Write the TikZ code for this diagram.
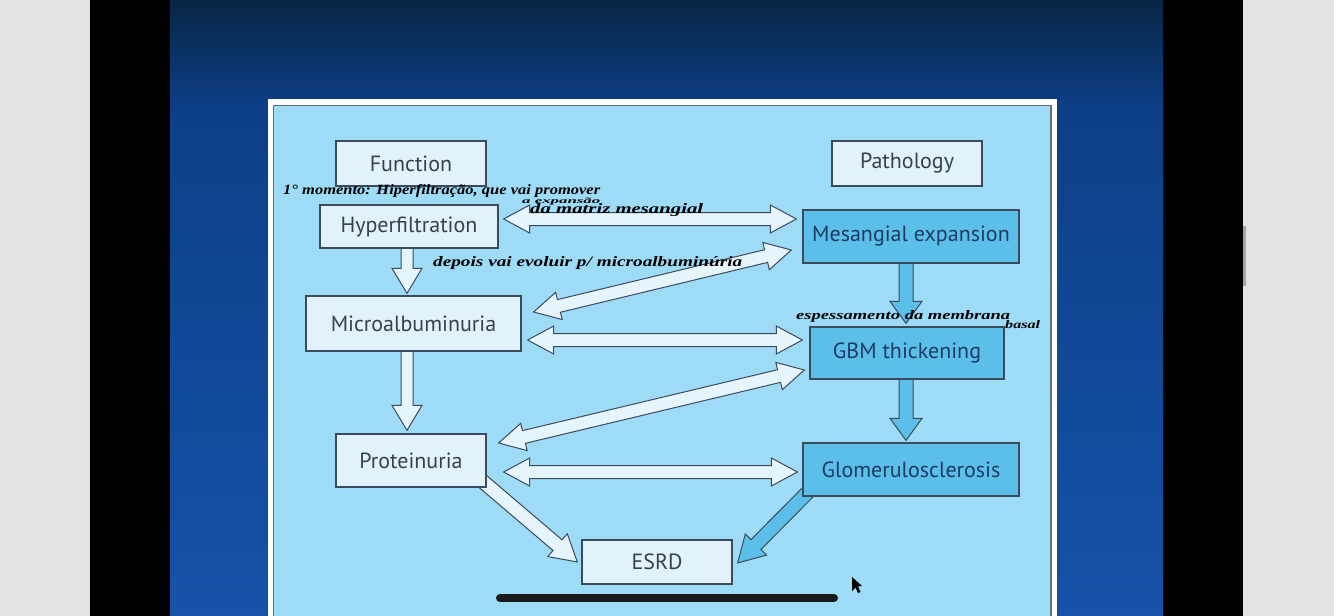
\documentclass[tikz,border=0pt]{standalone}
\usepackage{fontspec}
\setmainfont{PT Sans}
\newfontfamily\hand{Liberation Serif}
\usetikzlibrary{calc}
\pgfdeclarelayer{bg}\pgfdeclarelayer{mid}\pgfsetlayers{bg,mid,main}
\definecolor{sidegrey}{HTML}{E3E3E3}
\definecolor{panel}{HTML}{9EDBF7}
\definecolor{boxlight}{HTML}{E2F2FB}
\definecolor{boxblue}{HTML}{5CBFE9}
\definecolor{boxline}{HTML}{3C4B5B}
\definecolor{txtdark}{HTML}{3A404A}
\definecolor{txtblue}{HTML}{1C3C64}
\definecolor{arrlight}{HTML}{E6F4FB}
\definecolor{slidetop}{HTML}{082644}
\definecolor{slidemid}{HTML}{0D3F88}
\definecolor{slidebot}{HTML}{1652A8}
\tikzset{
  lightbox/.style={draw=boxline, line width=1.3pt, fill=boxlight, text=txtdark, inner sep=0pt, font=\fontsize{22}{26}\selectfont},
  bluebox/.style={draw=boxline, line width=1.3pt, fill=boxblue, text=txtblue, inner sep=0pt, font=\fontsize{22}{26}\selectfont},
  larrow/.style={draw=boxline, line width=1pt, fill=arrlight, line join=miter},
  barrow/.style={draw=boxline, line width=1pt, fill=boxblue, line join=miter},
  handtext/.style={anchor=west, inner sep=0pt, text=black},
}
% double block arrow: #1 style, #2 A, #3 B, #4 head length, #5 head half width, #6 shaft half width
\newcommand\dblarrow[6]{%
\draw[#1] (#2) -- ($(#2)!#4!(#3)!#5!90:(#3)$) -- ($(#2)!#4!(#3)!#6!90:(#3)$) -- ($(#3)!#4!(#2)!#6!-90:(#2)$) -- ($(#3)!#4!(#2)!#5!-90:(#2)$) -- (#3) -- ($(#3)!#4!(#2)!#5!90:(#2)$) -- ($(#3)!#4!(#2)!#6!90:(#2)$) -- ($(#2)!#4!(#3)!#6!-90:(#3)$) -- ($(#2)!#4!(#3)!#5!-90:(#3)$) -- cycle;}
% single block arrow from #2 to tip #3
\newcommand\sglarrow[6]{%
\draw[#1] ($(#2)!#6!90:(#3)$) -- ($(#3)!#4!(#2)!#6!-90:(#2)$) -- ($(#3)!#4!(#2)!#5!-90:(#2)$) -- (#3) -- ($(#3)!#4!(#2)!#5!90:(#2)$) -- ($(#3)!#4!(#2)!#6!90:(#2)$) -- ($(#2)!#6!-90:(#3)$) -- cycle;}
\begin{document}
\begin{tikzpicture}[x=1pt,y=-1pt]
\useasboundingbox (0,0) rectangle (1334,616);
\begin{pgfonlayer}{bg}
  \fill[sidegrey] (0,0) rectangle (1334,616);
  \fill[black] (90,0) rectangle (1243,616);
  \shade[top color=slidetop, bottom color=slidemid] (170,0) rectangle (1163,110);
  \shade[top color=slidemid, bottom color=slidebot] (170,109.5) rectangle (1163,616);
  \fill[white] (268,99) rectangle (1057,616);
  \filldraw[fill=panel, draw=boxline!80, line width=1.2pt] (273.5,105.5) rectangle (1051,630);
  \fill[gray!70] (1243,226) rectangle (1246,286);
\end{pgfonlayer}

% boxes
\node[lightbox, minimum width=150pt, minimum height=45pt] (func) at (411,163.5) {Function};
\node[lightbox, minimum width=150pt, minimum height=45pt] (path) at (907,163.5) {Pathology};
\node[lightbox, minimum width=178pt, minimum height=43pt] (hyp) at (409,226.5) {Hyperfiltration};
\node[bluebox, minimum width=216pt, minimum height=53pt] (mes) at (911,236.5) {Mesangial expansion};
\node[lightbox, minimum width=215pt, minimum height=55pt] (micro) at (413.5,323.5) {Microalbuminuria};
\node[bluebox, minimum width=194pt, minimum height=52pt] (gbm) at (907,353) {GBM thickening};
\node[lightbox, minimum width=150pt, minimum height=53pt] (prot) at (411,460.5) {Proteinuria};
\node[bluebox, minimum width=216pt, minimum height=53pt] (glom) at (911,469.5) {Glomerulosclerosis};
\node[lightbox, minimum width=150pt, minimum height=44pt] (esrd) at (657,562) {ESRD};

% arrow end points
\coordinate (a1s) at ($(hyp.east)+(5,-7.5)$);
\coordinate (a1e) at ($(mes.west)+(-6,-17.5)$);
\coordinate (a2s) at ($(mes.west)+(-11,13.5)$);
\coordinate (a2e) at ($(micro.east)+(12,-11.5)$);
\coordinate (a3s) at ($(hyp.south)+(-2,-2)$);
\coordinate (a3e) at ($(micro.north)+(-6.5,-2)$);
\coordinate (a4s) at ($(micro.east)+(6,16.5)$);
\coordinate (a4e) at ($(gbm.west)+(-7,-13)$);
\coordinate (a5s) at ($(gbm.west)+(-5,17)$);
\coordinate (a5e) at ($(prot.east)+(12,-17.5)$);
\coordinate (a6s) at ($(micro.south)+(-6.5,-2)$);
\coordinate (a6e) at ($(prot.north)+(-4,-3)$);
\coordinate (a7s) at ($(prot.east)+(17,11.5)$);
\coordinate (a7e) at ($(glom.west)+(-5,2.5)$);
\coordinate (a8s) at ($(mes.south)+(-5,-2)$);
\coordinate (a8e) at ($(gbm.north)+(-1,-3)$);
\coordinate (a9s) at ($(gbm.south)+(-1,-2)$);
\coordinate (a9e) at ($(glom.north)+(-5,-2)$);
\coordinate (a10s) at ($(prot.south east)+(-6,-8)$);
\coordinate (a10e) at ($(esrd.west)+(-4,0)$);
\coordinate (a11s) at ($(glom.south west)+(9,-8)$);
\coordinate (a11e) at ($(esrd.east)+(5,1)$);

\begin{pgfonlayer}{mid}
  \dblarrow{larrow}{a1s}{a1e}{26pt}{14pt}{6.5pt}
  \dblarrow{larrow}{a2s}{a2e}{26pt}{14pt}{6.5pt}
  \dblarrow{larrow}{a4s}{a4e}{26pt}{14pt}{6.5pt}
  \dblarrow{larrow}{a5s}{a5e}{26pt}{14pt}{6.5pt}
  \dblarrow{larrow}{a7s}{a7e}{26pt}{14pt}{6.5pt}
  \sglarrow{larrow}{a3s}{a3e}{25pt}{15pt}{6pt}
  \sglarrow{larrow}{a6s}{a6e}{25pt}{15pt}{6pt}
  \sglarrow{barrow}{a8s}{a8e}{22pt}{16pt}{7pt}
  \sglarrow{barrow}{a9s}{a9e}{22pt}{16pt}{7pt}
  \sglarrow{larrow}{a10s}{a10e}{26pt}{15pt}{7pt}
  \sglarrow{barrow}{a11s}{a11e}{26pt}{15pt}{7pt}
\end{pgfonlayer}

% handwritten notes
\node[handtext] (n1) at (283,191) {\resizebox{317pt}{10pt}{\hand\bfseries\itshape 1° momento: Hiperfiltração, que vai promover}};
\node[handtext] (n2) at (522,201.5) {\resizebox{78pt}{5.5pt}{\hand\bfseries\itshape a expansão}};
\node[handtext] (n3) at (530,210.5) {\resizebox{173pt}{10pt}{\hand\bfseries\itshape da matriz mesangial}};
\node[handtext] (n4) at (433,263) {\resizebox{309pt}{10pt}{\hand\bfseries\itshape depois vai evoluir p/ microalbuminúria}};
\node[handtext] (n5) at (796,316) {\resizebox{214pt}{9pt}{\hand\bfseries\itshape espessamento da membrana}};
\node[handtext] (n6) at (1005,325) {\resizebox{35pt}{8pt}{\hand\bfseries\itshape basal}};

% phone overlay
\draw[line width=8pt, line cap=round, color=black!90] (500,598) -- (834,598);
\fill[black] (852,577) -- (852,591) -- (855.5,587.5) -- (858,593) -- (860.5,592) -- (858,586.5) -- (862,586) -- cycle;
\end{tikzpicture}
\end{document}
